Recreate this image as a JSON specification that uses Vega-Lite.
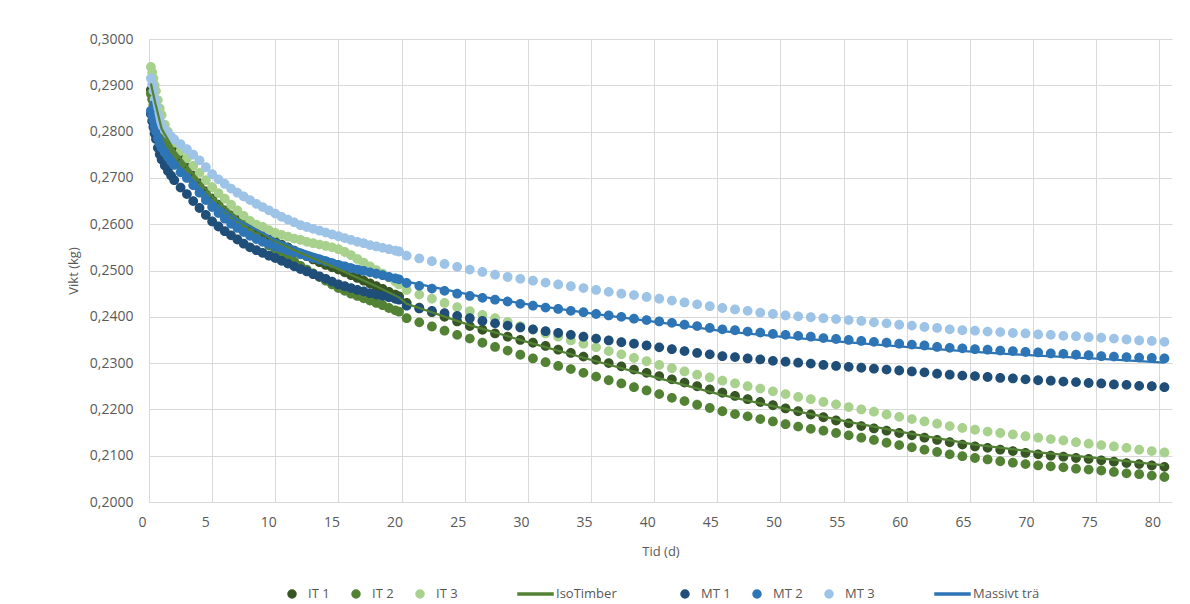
{
  "$schema": "https://vega.github.io/schema/vega-lite/v6.json",
  "width": 1023,
  "height": 463,
  "autosize": "none",
  "padding": {"left": 149, "top": 39, "right": 18, "bottom": 102},
  "background": "white",
  "config": {
    "locale": {"number": {"decimal": ",", "thousands": " ", "grouping": [3], "currency": ["", " kr"]}},
    "view": {"stroke": null},
    "font": "Open Sans",
    "axis": {"labelColor": "#595959", "titleColor": "#595959", "gridColor": "#D9D9D9", "gridWidth": 1, "domain": false, "ticks": false, "tickSize": 0, "labelFont": "Open Sans", "titleFont": "Open Sans", "titleFontWeight": "normal"},
    "legend": {"labelColor": "#595959", "labelFont": "Open Sans", "labelFontSize": 13, "layout": {"anchor": "middle"}}
  },
  "data": {"values": [
    {"s":"IT 1","t":0.15,"v":0.2890},{"s":"IT 1","t":0.25,"v":0.2880},{"s":"IT 1","t":0.35,"v":0.2867},{"s":"IT 1","t":0.45,"v":0.2856},{"s":"IT 1","t":0.55,"v":0.2845},{"s":"IT 1","t":0.7,"v":0.2828},{"s":"IT 1","t":0.85,"v":0.2810},{"s":"IT 1","t":1,"v":0.2796},{"s":"IT 1","t":1.25,"v":0.2783},{"s":"IT 1","t":1.5,"v":0.2772},{"s":"IT 1","t":1.75,"v":0.2764},{"s":"IT 1","t":2,"v":0.2756},{"s":"IT 1","t":2.5,"v":0.2740},{"s":"IT 1","t":3,"v":0.2722},{"s":"IT 1","t":3.5,"v":0.2705},{"s":"IT 1","t":4,"v":0.2688},{"s":"IT 1","t":4.5,"v":0.2671},{"s":"IT 1","t":5,"v":0.2655},{"s":"IT 1","t":5.5,"v":0.2642},{"s":"IT 1","t":6,"v":0.2630},{"s":"IT 1","t":6.5,"v":0.2619},{"s":"IT 1","t":7,"v":0.2609},{"s":"IT 1","t":7.5,"v":0.2600},{"s":"IT 1","t":8,"v":0.2592},{"s":"IT 1","t":8.5,"v":0.2584},{"s":"IT 1","t":9,"v":0.2577},{"s":"IT 1","t":9.5,"v":0.2570},{"s":"IT 1","t":10,"v":0.2563},{"s":"IT 1","t":10.5,"v":0.2556},{"s":"IT 1","t":11,"v":0.2550},{"s":"IT 1","t":11.5,"v":0.2543},{"s":"IT 1","t":12,"v":0.2537},{"s":"IT 1","t":12.5,"v":0.2531},{"s":"IT 1","t":13,"v":0.2524},{"s":"IT 1","t":13.5,"v":0.2518},{"s":"IT 1","t":14,"v":0.2512},{"s":"IT 1","t":14.5,"v":0.2507},{"s":"IT 1","t":15,"v":0.2502},{"s":"IT 1","t":15.5,"v":0.2496},{"s":"IT 1","t":16,"v":0.2490},{"s":"IT 1","t":16.5,"v":0.2484},{"s":"IT 1","t":17,"v":0.2478},{"s":"IT 1","t":17.5,"v":0.2472},{"s":"IT 1","t":18,"v":0.2466},{"s":"IT 1","t":18.5,"v":0.2460},{"s":"IT 1","t":19,"v":0.2454},{"s":"IT 1","t":19.5,"v":0.2448},{"s":"IT 1","t":19.8,"v":0.2444},
    {"s":"IT 1","t":20.4,"v":0.2430},{"s":"IT 1","t":21.4,"v":0.2420},{"s":"IT 1","t":22.4,"v":0.2410},{"s":"IT 1","t":23.4,"v":0.2400},{"s":"IT 1","t":24.4,"v":0.2390},{"s":"IT 1","t":25.4,"v":0.2380},{"s":"IT 1","t":26.4,"v":0.2372},{"s":"IT 1","t":27.4,"v":0.2364},{"s":"IT 1","t":28.4,"v":0.2357},{"s":"IT 1","t":29.4,"v":0.2350},{"s":"IT 1","t":30.4,"v":0.2344},{"s":"IT 1","t":31.4,"v":0.2337},{"s":"IT 1","t":32.4,"v":0.2329},{"s":"IT 1","t":33.4,"v":0.2322},{"s":"IT 1","t":34.4,"v":0.2314},{"s":"IT 1","t":35.4,"v":0.2307},{"s":"IT 1","t":36.4,"v":0.2300},{"s":"IT 1","t":37.4,"v":0.2293},{"s":"IT 1","t":38.4,"v":0.2286},{"s":"IT 1","t":39.4,"v":0.2279},{"s":"IT 1","t":40.4,"v":0.2272},{"s":"IT 1","t":41.4,"v":0.2265},{"s":"IT 1","t":42.4,"v":0.2258},{"s":"IT 1","t":43.4,"v":0.2250},{"s":"IT 1","t":44.4,"v":0.2243},{"s":"IT 1","t":45.4,"v":0.2236},{"s":"IT 1","t":46.4,"v":0.2229},{"s":"IT 1","t":47.4,"v":0.2222},{"s":"IT 1","t":48.4,"v":0.2216},{"s":"IT 1","t":49.4,"v":0.2209},{"s":"IT 1","t":50.4,"v":0.2202},{"s":"IT 1","t":51.4,"v":0.2196},{"s":"IT 1","t":52.4,"v":0.2189},{"s":"IT 1","t":53.4,"v":0.2183},{"s":"IT 1","t":54.4,"v":0.2176},{"s":"IT 1","t":55.4,"v":0.2170},{"s":"IT 1","t":56.4,"v":0.2164},{"s":"IT 1","t":57.4,"v":0.2159},{"s":"IT 1","t":58.4,"v":0.2154},{"s":"IT 1","t":59.4,"v":0.2149},{"s":"IT 1","t":60.4,"v":0.2144},{"s":"IT 1","t":61.4,"v":0.2139},{"s":"IT 1","t":62.4,"v":0.2134},{"s":"IT 1","t":63.4,"v":0.2129},{"s":"IT 1","t":64.4,"v":0.2124},{"s":"IT 1","t":65.4,"v":0.2120},{"s":"IT 1","t":66.4,"v":0.2117},{"s":"IT 1","t":67.4,"v":0.2113},{"s":"IT 1","t":68.4,"v":0.2110},{"s":"IT 1","t":69.4,"v":0.2106},{"s":"IT 1","t":70.4,"v":0.2103},{"s":"IT 1","t":71.4,"v":0.2100},{"s":"IT 1","t":72.4,"v":0.2098},{"s":"IT 1","t":73.4,"v":0.2095},{"s":"IT 1","t":74.4,"v":0.2093},{"s":"IT 1","t":75.4,"v":0.2090},{"s":"IT 1","t":76.4,"v":0.2087},{"s":"IT 1","t":77.4,"v":0.2084},{"s":"IT 1","t":78.4,"v":0.2082},{"s":"IT 1","t":79.4,"v":0.2079},{"s":"IT 1","t":80.4,"v":0.2076},
    {"s":"IT 2","t":0.15,"v":0.2882},{"s":"IT 2","t":0.25,"v":0.2870},{"s":"IT 2","t":0.35,"v":0.2858},{"s":"IT 2","t":0.45,"v":0.2845},{"s":"IT 2","t":0.55,"v":0.2833},{"s":"IT 2","t":0.7,"v":0.2815},{"s":"IT 2","t":0.85,"v":0.2798},{"s":"IT 2","t":1,"v":0.2785},{"s":"IT 2","t":1.25,"v":0.2773},{"s":"IT 2","t":1.5,"v":0.2763},{"s":"IT 2","t":1.75,"v":0.2754},{"s":"IT 2","t":2,"v":0.2745},{"s":"IT 2","t":2.5,"v":0.2728},{"s":"IT 2","t":3,"v":0.2712},{"s":"IT 2","t":3.5,"v":0.2695},{"s":"IT 2","t":4,"v":0.2678},{"s":"IT 2","t":4.5,"v":0.2661},{"s":"IT 2","t":5,"v":0.2645},{"s":"IT 2","t":5.5,"v":0.2633},{"s":"IT 2","t":6,"v":0.2621},{"s":"IT 2","t":6.5,"v":0.2610},{"s":"IT 2","t":7,"v":0.2600},{"s":"IT 2","t":7.5,"v":0.2591},{"s":"IT 2","t":8,"v":0.2581},{"s":"IT 2","t":8.5,"v":0.2572},{"s":"IT 2","t":9,"v":0.2563},{"s":"IT 2","t":9.5,"v":0.2554},{"s":"IT 2","t":10,"v":0.2545},{"s":"IT 2","t":10.5,"v":0.2536},{"s":"IT 2","t":11,"v":0.2527},{"s":"IT 2","t":11.5,"v":0.2519},{"s":"IT 2","t":12,"v":0.2510},{"s":"IT 2","t":12.5,"v":0.2502},{"s":"IT 2","t":13,"v":0.2494},{"s":"IT 2","t":13.5,"v":0.2486},{"s":"IT 2","t":14,"v":0.2478},{"s":"IT 2","t":14.5,"v":0.2470},{"s":"IT 2","t":15,"v":0.2462},{"s":"IT 2","t":15.5,"v":0.2456},{"s":"IT 2","t":16,"v":0.2450},{"s":"IT 2","t":16.5,"v":0.2445},{"s":"IT 2","t":17,"v":0.2440},{"s":"IT 2","t":17.5,"v":0.2435},{"s":"IT 2","t":18,"v":0.2430},{"s":"IT 2","t":18.5,"v":0.2425},{"s":"IT 2","t":19,"v":0.2419},{"s":"IT 2","t":19.5,"v":0.2414},{"s":"IT 2","t":19.8,"v":0.2411},
    {"s":"IT 2","t":20.4,"v":0.2397},{"s":"IT 2","t":21.4,"v":0.2388},{"s":"IT 2","t":22.4,"v":0.2379},{"s":"IT 2","t":23.4,"v":0.2370},{"s":"IT 2","t":24.4,"v":0.2361},{"s":"IT 2","t":25.4,"v":0.2353},{"s":"IT 2","t":26.4,"v":0.2344},{"s":"IT 2","t":27.4,"v":0.2335},{"s":"IT 2","t":28.4,"v":0.2327},{"s":"IT 2","t":29.4,"v":0.2318},{"s":"IT 2","t":30.4,"v":0.2310},{"s":"IT 2","t":31.4,"v":0.2302},{"s":"IT 2","t":32.4,"v":0.2294},{"s":"IT 2","t":33.4,"v":0.2287},{"s":"IT 2","t":34.4,"v":0.2279},{"s":"IT 2","t":35.4,"v":0.2271},{"s":"IT 2","t":36.4,"v":0.2263},{"s":"IT 2","t":37.4,"v":0.2256},{"s":"IT 2","t":38.4,"v":0.2248},{"s":"IT 2","t":39.4,"v":0.2241},{"s":"IT 2","t":40.4,"v":0.2233},{"s":"IT 2","t":41.4,"v":0.2225},{"s":"IT 2","t":42.4,"v":0.2218},{"s":"IT 2","t":43.4,"v":0.2210},{"s":"IT 2","t":44.4,"v":0.2203},{"s":"IT 2","t":45.4,"v":0.2196},{"s":"IT 2","t":46.4,"v":0.2190},{"s":"IT 2","t":47.4,"v":0.2185},{"s":"IT 2","t":48.4,"v":0.2179},{"s":"IT 2","t":49.4,"v":0.2174},{"s":"IT 2","t":50.4,"v":0.2168},{"s":"IT 2","t":51.4,"v":0.2163},{"s":"IT 2","t":52.4,"v":0.2158},{"s":"IT 2","t":53.4,"v":0.2154},{"s":"IT 2","t":54.4,"v":0.2149},{"s":"IT 2","t":55.4,"v":0.2144},{"s":"IT 2","t":56.4,"v":0.2139},{"s":"IT 2","t":57.4,"v":0.2134},{"s":"IT 2","t":58.4,"v":0.2128},{"s":"IT 2","t":59.4,"v":0.2123},{"s":"IT 2","t":60.4,"v":0.2118},{"s":"IT 2","t":61.4,"v":0.2113},{"s":"IT 2","t":62.4,"v":0.2108},{"s":"IT 2","t":63.4,"v":0.2103},{"s":"IT 2","t":64.4,"v":0.2099},{"s":"IT 2","t":65.4,"v":0.2095},{"s":"IT 2","t":66.4,"v":0.2092},{"s":"IT 2","t":67.4,"v":0.2088},{"s":"IT 2","t":68.4,"v":0.2085},{"s":"IT 2","t":69.4,"v":0.2082},{"s":"IT 2","t":70.4,"v":0.2079},{"s":"IT 2","t":71.4,"v":0.2077},{"s":"IT 2","t":72.4,"v":0.2075},{"s":"IT 2","t":73.4,"v":0.2072},{"s":"IT 2","t":74.4,"v":0.2070},{"s":"IT 2","t":75.4,"v":0.2068},{"s":"IT 2","t":76.4,"v":0.2065},{"s":"IT 2","t":77.4,"v":0.2062},{"s":"IT 2","t":78.4,"v":0.2060},{"s":"IT 2","t":79.4,"v":0.2057},{"s":"IT 2","t":80.4,"v":0.2054},
    {"s":"IT 3","t":0.15,"v":0.2940},{"s":"IT 3","t":0.25,"v":0.2928},{"s":"IT 3","t":0.35,"v":0.2915},{"s":"IT 3","t":0.45,"v":0.2900},{"s":"IT 3","t":0.55,"v":0.2888},{"s":"IT 3","t":0.7,"v":0.2868},{"s":"IT 3","t":0.85,"v":0.2850},{"s":"IT 3","t":1,"v":0.2836},{"s":"IT 3","t":1.25,"v":0.2815},{"s":"IT 3","t":1.5,"v":0.2800},{"s":"IT 3","t":1.75,"v":0.2787},{"s":"IT 3","t":2,"v":0.2776},{"s":"IT 3","t":2.5,"v":0.2758},{"s":"IT 3","t":3,"v":0.2742},{"s":"IT 3","t":3.5,"v":0.2726},{"s":"IT 3","t":4,"v":0.2711},{"s":"IT 3","t":4.5,"v":0.2695},{"s":"IT 3","t":5,"v":0.2680},{"s":"IT 3","t":5.5,"v":0.2667},{"s":"IT 3","t":6,"v":0.2655},{"s":"IT 3","t":6.5,"v":0.2642},{"s":"IT 3","t":7,"v":0.2630},{"s":"IT 3","t":7.5,"v":0.2618},{"s":"IT 3","t":8,"v":0.2607},{"s":"IT 3","t":8.5,"v":0.2599},{"s":"IT 3","t":9,"v":0.2594},{"s":"IT 3","t":9.5,"v":0.2587},{"s":"IT 3","t":10,"v":0.2581},{"s":"IT 3","t":10.5,"v":0.2577},{"s":"IT 3","t":11,"v":0.2573},{"s":"IT 3","t":11.5,"v":0.2569},{"s":"IT 3","t":12,"v":0.2566},{"s":"IT 3","t":12.5,"v":0.2562},{"s":"IT 3","t":13,"v":0.2559},{"s":"IT 3","t":13.5,"v":0.2556},{"s":"IT 3","t":14,"v":0.2553},{"s":"IT 3","t":14.5,"v":0.2550},{"s":"IT 3","t":15,"v":0.2546},{"s":"IT 3","t":15.5,"v":0.2540},{"s":"IT 3","t":16,"v":0.2533},{"s":"IT 3","t":16.5,"v":0.2525},{"s":"IT 3","t":17,"v":0.2517},{"s":"IT 3","t":17.5,"v":0.2509},{"s":"IT 3","t":18,"v":0.2501},{"s":"IT 3","t":18.5,"v":0.2493},{"s":"IT 3","t":19,"v":0.2485},{"s":"IT 3","t":19.5,"v":0.2476},{"s":"IT 3","t":19.8,"v":0.2470},
    {"s":"IT 3","t":20.4,"v":0.2458},{"s":"IT 3","t":21.4,"v":0.2448},{"s":"IT 3","t":22.4,"v":0.2439},{"s":"IT 3","t":23.4,"v":0.2430},{"s":"IT 3","t":24.4,"v":0.2421},{"s":"IT 3","t":25.4,"v":0.2412},{"s":"IT 3","t":26.4,"v":0.2404},{"s":"IT 3","t":27.4,"v":0.2397},{"s":"IT 3","t":28.4,"v":0.2389},{"s":"IT 3","t":29.4,"v":0.2380},{"s":"IT 3","t":30.4,"v":0.2372},{"s":"IT 3","t":31.4,"v":0.2364},{"s":"IT 3","t":32.4,"v":0.2357},{"s":"IT 3","t":33.4,"v":0.2349},{"s":"IT 3","t":34.4,"v":0.2342},{"s":"IT 3","t":35.4,"v":0.2334},{"s":"IT 3","t":36.4,"v":0.2326},{"s":"IT 3","t":37.4,"v":0.2319},{"s":"IT 3","t":38.4,"v":0.2311},{"s":"IT 3","t":39.4,"v":0.2304},{"s":"IT 3","t":40.4,"v":0.2296},{"s":"IT 3","t":41.4,"v":0.2289},{"s":"IT 3","t":42.4,"v":0.2282},{"s":"IT 3","t":43.4,"v":0.2275},{"s":"IT 3","t":44.4,"v":0.2269},{"s":"IT 3","t":45.4,"v":0.2262},{"s":"IT 3","t":46.4,"v":0.2256},{"s":"IT 3","t":47.4,"v":0.2250},{"s":"IT 3","t":48.4,"v":0.2245},{"s":"IT 3","t":49.4,"v":0.2239},{"s":"IT 3","t":50.4,"v":0.2233},{"s":"IT 3","t":51.4,"v":0.2227},{"s":"IT 3","t":52.4,"v":0.2222},{"s":"IT 3","t":53.4,"v":0.2216},{"s":"IT 3","t":54.4,"v":0.2211},{"s":"IT 3","t":55.4,"v":0.2205},{"s":"IT 3","t":56.4,"v":0.2200},{"s":"IT 3","t":57.4,"v":0.2195},{"s":"IT 3","t":58.4,"v":0.2189},{"s":"IT 3","t":59.4,"v":0.2184},{"s":"IT 3","t":60.4,"v":0.2179},{"s":"IT 3","t":61.4,"v":0.2174},{"s":"IT 3","t":62.4,"v":0.2169},{"s":"IT 3","t":63.4,"v":0.2164},{"s":"IT 3","t":64.4,"v":0.2160},{"s":"IT 3","t":65.4,"v":0.2156},{"s":"IT 3","t":66.4,"v":0.2152},{"s":"IT 3","t":67.4,"v":0.2149},{"s":"IT 3","t":68.4,"v":0.2146},{"s":"IT 3","t":69.4,"v":0.2142},{"s":"IT 3","t":70.4,"v":0.2139},{"s":"IT 3","t":71.4,"v":0.2136},{"s":"IT 3","t":72.4,"v":0.2133},{"s":"IT 3","t":73.4,"v":0.2129},{"s":"IT 3","t":74.4,"v":0.2126},{"s":"IT 3","t":75.4,"v":0.2123},{"s":"IT 3","t":76.4,"v":0.2120},{"s":"IT 3","t":77.4,"v":0.2117},{"s":"IT 3","t":78.4,"v":0.2113},{"s":"IT 3","t":79.4,"v":0.2110},{"s":"IT 3","t":80.4,"v":0.2107},
    {"s":"MT 1","t":0.15,"v":0.2838},{"s":"MT 1","t":0.25,"v":0.2823},{"s":"MT 1","t":0.35,"v":0.2810},{"s":"MT 1","t":0.45,"v":0.2796},{"s":"MT 1","t":0.55,"v":0.2784},{"s":"MT 1","t":0.7,"v":0.2765},{"s":"MT 1","t":0.85,"v":0.2751},{"s":"MT 1","t":1,"v":0.2740},{"s":"MT 1","t":1.25,"v":0.2727},{"s":"MT 1","t":1.5,"v":0.2715},{"s":"MT 1","t":1.75,"v":0.2705},{"s":"MT 1","t":2,"v":0.2695},{"s":"MT 1","t":2.5,"v":0.2679},{"s":"MT 1","t":3,"v":0.2665},{"s":"MT 1","t":3.5,"v":0.2650},{"s":"MT 1","t":4,"v":0.2635},{"s":"MT 1","t":4.5,"v":0.2620},{"s":"MT 1","t":5,"v":0.2606},{"s":"MT 1","t":5.5,"v":0.2595},{"s":"MT 1","t":6,"v":0.2585},{"s":"MT 1","t":6.5,"v":0.2576},{"s":"MT 1","t":7,"v":0.2567},{"s":"MT 1","t":7.5,"v":0.2558},{"s":"MT 1","t":8,"v":0.2550},{"s":"MT 1","t":8.5,"v":0.2544},{"s":"MT 1","t":9,"v":0.2538},{"s":"MT 1","t":9.5,"v":0.2532},{"s":"MT 1","t":10,"v":0.2527},{"s":"MT 1","t":10.5,"v":0.2521},{"s":"MT 1","t":11,"v":0.2515},{"s":"MT 1","t":11.5,"v":0.2509},{"s":"MT 1","t":12,"v":0.2503},{"s":"MT 1","t":12.5,"v":0.2498},{"s":"MT 1","t":13,"v":0.2492},{"s":"MT 1","t":13.5,"v":0.2487},{"s":"MT 1","t":14,"v":0.2482},{"s":"MT 1","t":14.5,"v":0.2476},{"s":"MT 1","t":15,"v":0.2470},{"s":"MT 1","t":15.5,"v":0.2466},{"s":"MT 1","t":16,"v":0.2462},{"s":"MT 1","t":16.5,"v":0.2458},{"s":"MT 1","t":17,"v":0.2455},{"s":"MT 1","t":17.5,"v":0.2451},{"s":"MT 1","t":18,"v":0.2448},{"s":"MT 1","t":18.5,"v":0.2445},{"s":"MT 1","t":19,"v":0.2442},{"s":"MT 1","t":19.5,"v":0.2439},{"s":"MT 1","t":19.8,"v":0.2437},
    {"s":"MT 1","t":20.4,"v":0.2424},{"s":"MT 1","t":21.4,"v":0.2418},{"s":"MT 1","t":22.4,"v":0.2413},{"s":"MT 1","t":23.4,"v":0.2408},{"s":"MT 1","t":24.4,"v":0.2402},{"s":"MT 1","t":25.4,"v":0.2397},{"s":"MT 1","t":26.4,"v":0.2391},{"s":"MT 1","t":27.4,"v":0.2386},{"s":"MT 1","t":28.4,"v":0.2381},{"s":"MT 1","t":29.4,"v":0.2377},{"s":"MT 1","t":30.4,"v":0.2373},{"s":"MT 1","t":31.4,"v":0.2369},{"s":"MT 1","t":32.4,"v":0.2365},{"s":"MT 1","t":33.4,"v":0.2361},{"s":"MT 1","t":34.4,"v":0.2357},{"s":"MT 1","t":35.4,"v":0.2353},{"s":"MT 1","t":36.4,"v":0.2349},{"s":"MT 1","t":37.4,"v":0.2345},{"s":"MT 1","t":38.4,"v":0.2342},{"s":"MT 1","t":39.4,"v":0.2338},{"s":"MT 1","t":40.4,"v":0.2334},{"s":"MT 1","t":41.4,"v":0.2330},{"s":"MT 1","t":42.4,"v":0.2326},{"s":"MT 1","t":43.4,"v":0.2322},{"s":"MT 1","t":44.4,"v":0.2319},{"s":"MT 1","t":45.4,"v":0.2315},{"s":"MT 1","t":46.4,"v":0.2313},{"s":"MT 1","t":47.4,"v":0.2310},{"s":"MT 1","t":48.4,"v":0.2308},{"s":"MT 1","t":49.4,"v":0.2305},{"s":"MT 1","t":50.4,"v":0.2303},{"s":"MT 1","t":51.4,"v":0.2301},{"s":"MT 1","t":52.4,"v":0.2299},{"s":"MT 1","t":53.4,"v":0.2296},{"s":"MT 1","t":54.4,"v":0.2294},{"s":"MT 1","t":55.4,"v":0.2292},{"s":"MT 1","t":56.4,"v":0.2290},{"s":"MT 1","t":57.4,"v":0.2288},{"s":"MT 1","t":58.4,"v":0.2286},{"s":"MT 1","t":59.4,"v":0.2284},{"s":"MT 1","t":60.4,"v":0.2282},{"s":"MT 1","t":61.4,"v":0.2280},{"s":"MT 1","t":62.4,"v":0.2277},{"s":"MT 1","t":63.4,"v":0.2275},{"s":"MT 1","t":64.4,"v":0.2273},{"s":"MT 1","t":65.4,"v":0.2272},{"s":"MT 1","t":66.4,"v":0.2270},{"s":"MT 1","t":67.4,"v":0.2268},{"s":"MT 1","t":68.4,"v":0.2267},{"s":"MT 1","t":69.4,"v":0.2265},{"s":"MT 1","t":70.4,"v":0.2263},{"s":"MT 1","t":71.4,"v":0.2262},{"s":"MT 1","t":72.4,"v":0.2260},{"s":"MT 1","t":73.4,"v":0.2259},{"s":"MT 1","t":74.4,"v":0.2257},{"s":"MT 1","t":75.4,"v":0.2256},{"s":"MT 1","t":76.4,"v":0.2254},{"s":"MT 1","t":77.4,"v":0.2253},{"s":"MT 1","t":78.4,"v":0.2251},{"s":"MT 1","t":79.4,"v":0.2250},{"s":"MT 1","t":80.4,"v":0.2248},
    {"s":"MT 2","t":0.15,"v":0.2845},{"s":"MT 2","t":0.25,"v":0.2835},{"s":"MT 2","t":0.35,"v":0.2825},{"s":"MT 2","t":0.45,"v":0.2811},{"s":"MT 2","t":0.55,"v":0.2800},{"s":"MT 2","t":0.7,"v":0.2785},{"s":"MT 2","t":0.85,"v":0.2774},{"s":"MT 2","t":1,"v":0.2765},{"s":"MT 2","t":1.25,"v":0.2755},{"s":"MT 2","t":1.5,"v":0.2745},{"s":"MT 2","t":1.75,"v":0.2736},{"s":"MT 2","t":2,"v":0.2728},{"s":"MT 2","t":2.5,"v":0.2712},{"s":"MT 2","t":3,"v":0.2700},{"s":"MT 2","t":3.5,"v":0.2684},{"s":"MT 2","t":4,"v":0.2668},{"s":"MT 2","t":4.5,"v":0.2652},{"s":"MT 2","t":5,"v":0.2637},{"s":"MT 2","t":5.5,"v":0.2624},{"s":"MT 2","t":6,"v":0.2612},{"s":"MT 2","t":6.5,"v":0.2601},{"s":"MT 2","t":7,"v":0.2592},{"s":"MT 2","t":7.5,"v":0.2583},{"s":"MT 2","t":8,"v":0.2575},{"s":"MT 2","t":8.5,"v":0.2568},{"s":"MT 2","t":9,"v":0.2562},{"s":"MT 2","t":9.5,"v":0.2557},{"s":"MT 2","t":10,"v":0.2552},{"s":"MT 2","t":10.5,"v":0.2548},{"s":"MT 2","t":11,"v":0.2543},{"s":"MT 2","t":11.5,"v":0.2539},{"s":"MT 2","t":12,"v":0.2535},{"s":"MT 2","t":12.5,"v":0.2531},{"s":"MT 2","t":13,"v":0.2527},{"s":"MT 2","t":13.5,"v":0.2524},{"s":"MT 2","t":14,"v":0.2520},{"s":"MT 2","t":14.5,"v":0.2516},{"s":"MT 2","t":15,"v":0.2512},{"s":"MT 2","t":15.5,"v":0.2509},{"s":"MT 2","t":16,"v":0.2505},{"s":"MT 2","t":16.5,"v":0.2502},{"s":"MT 2","t":17,"v":0.2499},{"s":"MT 2","t":17.5,"v":0.2496},{"s":"MT 2","t":18,"v":0.2493},{"s":"MT 2","t":18.5,"v":0.2490},{"s":"MT 2","t":19,"v":0.2486},{"s":"MT 2","t":19.5,"v":0.2483},{"s":"MT 2","t":19.8,"v":0.2481},
    {"s":"MT 2","t":20.4,"v":0.2473},{"s":"MT 2","t":21.4,"v":0.2467},{"s":"MT 2","t":22.4,"v":0.2461},{"s":"MT 2","t":23.4,"v":0.2456},{"s":"MT 2","t":24.4,"v":0.2450},{"s":"MT 2","t":25.4,"v":0.2445},{"s":"MT 2","t":26.4,"v":0.2441},{"s":"MT 2","t":27.4,"v":0.2437},{"s":"MT 2","t":28.4,"v":0.2433},{"s":"MT 2","t":29.4,"v":0.2428},{"s":"MT 2","t":30.4,"v":0.2424},{"s":"MT 2","t":31.4,"v":0.2420},{"s":"MT 2","t":32.4,"v":0.2417},{"s":"MT 2","t":33.4,"v":0.2413},{"s":"MT 2","t":34.4,"v":0.2410},{"s":"MT 2","t":35.4,"v":0.2406},{"s":"MT 2","t":36.4,"v":0.2403},{"s":"MT 2","t":37.4,"v":0.2400},{"s":"MT 2","t":38.4,"v":0.2396},{"s":"MT 2","t":39.4,"v":0.2393},{"s":"MT 2","t":40.4,"v":0.2390},{"s":"MT 2","t":41.4,"v":0.2387},{"s":"MT 2","t":42.4,"v":0.2383},{"s":"MT 2","t":43.4,"v":0.2380},{"s":"MT 2","t":44.4,"v":0.2376},{"s":"MT 2","t":45.4,"v":0.2373},{"s":"MT 2","t":46.4,"v":0.2371},{"s":"MT 2","t":47.4,"v":0.2368},{"s":"MT 2","t":48.4,"v":0.2366},{"s":"MT 2","t":49.4,"v":0.2363},{"s":"MT 2","t":50.4,"v":0.2361},{"s":"MT 2","t":51.4,"v":0.2359},{"s":"MT 2","t":52.4,"v":0.2357},{"s":"MT 2","t":53.4,"v":0.2354},{"s":"MT 2","t":54.4,"v":0.2352},{"s":"MT 2","t":55.4,"v":0.2350},{"s":"MT 2","t":56.4,"v":0.2348},{"s":"MT 2","t":57.4,"v":0.2346},{"s":"MT 2","t":58.4,"v":0.2344},{"s":"MT 2","t":59.4,"v":0.2342},{"s":"MT 2","t":60.4,"v":0.2340},{"s":"MT 2","t":61.4,"v":0.2338},{"s":"MT 2","t":62.4,"v":0.2335},{"s":"MT 2","t":63.4,"v":0.2333},{"s":"MT 2","t":64.4,"v":0.2332},{"s":"MT 2","t":65.4,"v":0.2330},{"s":"MT 2","t":66.4,"v":0.2329},{"s":"MT 2","t":67.4,"v":0.2327},{"s":"MT 2","t":68.4,"v":0.2326},{"s":"MT 2","t":69.4,"v":0.2324},{"s":"MT 2","t":70.4,"v":0.2323},{"s":"MT 2","t":71.4,"v":0.2321},{"s":"MT 2","t":72.4,"v":0.2320},{"s":"MT 2","t":73.4,"v":0.2318},{"s":"MT 2","t":74.4,"v":0.2317},{"s":"MT 2","t":75.4,"v":0.2315},{"s":"MT 2","t":76.4,"v":0.2314},{"s":"MT 2","t":77.4,"v":0.2313},{"s":"MT 2","t":78.4,"v":0.2312},{"s":"MT 2","t":79.4,"v":0.2311},{"s":"MT 2","t":80.4,"v":0.2310},
    {"s":"MT 3","t":0.15,"v":0.2915},{"s":"MT 3","t":0.25,"v":0.2902},{"s":"MT 3","t":0.35,"v":0.2888},{"s":"MT 3","t":0.45,"v":0.2870},{"s":"MT 3","t":0.55,"v":0.2855},{"s":"MT 3","t":0.7,"v":0.2836},{"s":"MT 3","t":0.85,"v":0.2822},{"s":"MT 3","t":1,"v":0.2813},{"s":"MT 3","t":1.25,"v":0.2803},{"s":"MT 3","t":1.5,"v":0.2795},{"s":"MT 3","t":1.75,"v":0.2789},{"s":"MT 3","t":2,"v":0.2783},{"s":"MT 3","t":2.5,"v":0.2773},{"s":"MT 3","t":3,"v":0.2762},{"s":"MT 3","t":3.5,"v":0.2750},{"s":"MT 3","t":4,"v":0.2738},{"s":"MT 3","t":4.5,"v":0.2723},{"s":"MT 3","t":5,"v":0.2708},{"s":"MT 3","t":5.5,"v":0.2697},{"s":"MT 3","t":6,"v":0.2687},{"s":"MT 3","t":6.5,"v":0.2677},{"s":"MT 3","t":7,"v":0.2668},{"s":"MT 3","t":7.5,"v":0.2660},{"s":"MT 3","t":8,"v":0.2652},{"s":"MT 3","t":8.5,"v":0.2644},{"s":"MT 3","t":9,"v":0.2637},{"s":"MT 3","t":9.5,"v":0.2630},{"s":"MT 3","t":10,"v":0.2623},{"s":"MT 3","t":10.5,"v":0.2616},{"s":"MT 3","t":11,"v":0.2610},{"s":"MT 3","t":11.5,"v":0.2604},{"s":"MT 3","t":12,"v":0.2598},{"s":"MT 3","t":12.5,"v":0.2594},{"s":"MT 3","t":13,"v":0.2590},{"s":"MT 3","t":13.5,"v":0.2586},{"s":"MT 3","t":14,"v":0.2582},{"s":"MT 3","t":14.5,"v":0.2578},{"s":"MT 3","t":15,"v":0.2574},{"s":"MT 3","t":15.5,"v":0.2570},{"s":"MT 3","t":16,"v":0.2566},{"s":"MT 3","t":16.5,"v":0.2562},{"s":"MT 3","t":17,"v":0.2559},{"s":"MT 3","t":17.5,"v":0.2555},{"s":"MT 3","t":18,"v":0.2552},{"s":"MT 3","t":18.5,"v":0.2549},{"s":"MT 3","t":19,"v":0.2546},{"s":"MT 3","t":19.5,"v":0.2543},{"s":"MT 3","t":19.8,"v":0.2541},
    {"s":"MT 3","t":20.4,"v":0.2532},{"s":"MT 3","t":21.4,"v":0.2526},{"s":"MT 3","t":22.4,"v":0.2520},{"s":"MT 3","t":23.4,"v":0.2514},{"s":"MT 3","t":24.4,"v":0.2508},{"s":"MT 3","t":25.4,"v":0.2502},{"s":"MT 3","t":26.4,"v":0.2497},{"s":"MT 3","t":27.4,"v":0.2491},{"s":"MT 3","t":28.4,"v":0.2486},{"s":"MT 3","t":29.4,"v":0.2482},{"s":"MT 3","t":30.4,"v":0.2478},{"s":"MT 3","t":31.4,"v":0.2474},{"s":"MT 3","t":32.4,"v":0.2470},{"s":"MT 3","t":33.4,"v":0.2466},{"s":"MT 3","t":34.4,"v":0.2462},{"s":"MT 3","t":35.4,"v":0.2458},{"s":"MT 3","t":36.4,"v":0.2454},{"s":"MT 3","t":37.4,"v":0.2450},{"s":"MT 3","t":38.4,"v":0.2447},{"s":"MT 3","t":39.4,"v":0.2443},{"s":"MT 3","t":40.4,"v":0.2439},{"s":"MT 3","t":41.4,"v":0.2435},{"s":"MT 3","t":42.4,"v":0.2431},{"s":"MT 3","t":43.4,"v":0.2427},{"s":"MT 3","t":44.4,"v":0.2423},{"s":"MT 3","t":45.4,"v":0.2419},{"s":"MT 3","t":46.4,"v":0.2416},{"s":"MT 3","t":47.4,"v":0.2413},{"s":"MT 3","t":48.4,"v":0.2409},{"s":"MT 3","t":49.4,"v":0.2406},{"s":"MT 3","t":50.4,"v":0.2403},{"s":"MT 3","t":51.4,"v":0.2401},{"s":"MT 3","t":52.4,"v":0.2399},{"s":"MT 3","t":53.4,"v":0.2397},{"s":"MT 3","t":54.4,"v":0.2395},{"s":"MT 3","t":55.4,"v":0.2393},{"s":"MT 3","t":56.4,"v":0.2391},{"s":"MT 3","t":57.4,"v":0.2388},{"s":"MT 3","t":58.4,"v":0.2386},{"s":"MT 3","t":59.4,"v":0.2383},{"s":"MT 3","t":60.4,"v":0.2381},{"s":"MT 3","t":61.4,"v":0.2378},{"s":"MT 3","t":62.4,"v":0.2376},{"s":"MT 3","t":63.4,"v":0.2373},{"s":"MT 3","t":64.4,"v":0.2371},{"s":"MT 3","t":65.4,"v":0.2370},{"s":"MT 3","t":66.4,"v":0.2368},{"s":"MT 3","t":67.4,"v":0.2367},{"s":"MT 3","t":68.4,"v":0.2365},{"s":"MT 3","t":69.4,"v":0.2364},{"s":"MT 3","t":70.4,"v":0.2362},{"s":"MT 3","t":71.4,"v":0.2361},{"s":"MT 3","t":72.4,"v":0.2359},{"s":"MT 3","t":73.4,"v":0.2358},{"s":"MT 3","t":74.4,"v":0.2356},{"s":"MT 3","t":75.4,"v":0.2355},{"s":"MT 3","t":76.4,"v":0.2353},{"s":"MT 3","t":77.4,"v":0.2351},{"s":"MT 3","t":78.4,"v":0.2349},{"s":"MT 3","t":79.4,"v":0.2348},{"s":"MT 3","t":80.4,"v":0.2346},
    {"s":"IsoTimber","t":0.15,"v":0.2904},{"s":"IsoTimber","t":0.5,"v":0.2861},{"s":"IsoTimber","t":1,"v":0.2806},{"s":"IsoTimber","t":2,"v":0.2759},{"s":"IsoTimber","t":3,"v":0.2725},{"s":"IsoTimber","t":5,"v":0.2660},{"s":"IsoTimber","t":7,"v":0.2613},{"s":"IsoTimber","t":10,"v":0.2563},{"s":"IsoTimber","t":12,"v":0.2538},{"s":"IsoTimber","t":15,"v":0.2503},{"s":"IsoTimber","t":18,"v":0.2466},{"s":"IsoTimber","t":19.8,"v":0.2442},{"s":"IsoTimber","t":20.4,"v":0.2428},{"s":"IsoTimber","t":25.4,"v":0.2382},{"s":"IsoTimber","t":30.4,"v":0.2342},{"s":"IsoTimber","t":35.4,"v":0.2304},{"s":"IsoTimber","t":40.4,"v":0.2267},{"s":"IsoTimber","t":45.4,"v":0.2231},{"s":"IsoTimber","t":50.4,"v":0.2201},{"s":"IsoTimber","t":55.4,"v":0.2173},{"s":"IsoTimber","t":60.4,"v":0.2147},{"s":"IsoTimber","t":65.4,"v":0.2124},{"s":"IsoTimber","t":70.4,"v":0.2107},{"s":"IsoTimber","t":75.4,"v":0.2094},{"s":"IsoTimber","t":80.4,"v":0.2079},
    {"s":"Massivt trä","t":0.15,"v":0.2866},{"s":"Massivt trä","t":0.5,"v":0.2819},{"s":"Massivt trä","t":1,"v":0.2773},{"s":"Massivt trä","t":2,"v":0.2735},{"s":"Massivt trä","t":3,"v":0.2709},{"s":"Massivt trä","t":5,"v":0.2650},{"s":"Massivt trä","t":7,"v":0.2609},{"s":"Massivt trä","t":10,"v":0.2567},{"s":"Massivt trä","t":12,"v":0.2545},{"s":"Massivt trä","t":15,"v":0.2519},{"s":"Massivt trä","t":18,"v":0.2498},{"s":"Massivt trä","t":19.8,"v":0.2486},{"s":"Massivt trä","t":20.4,"v":0.2476},{"s":"Massivt trä","t":25.4,"v":0.2448},{"s":"Massivt trä","t":30.4,"v":0.2425},{"s":"Massivt trä","t":35.4,"v":0.2406},{"s":"Massivt trä","t":40.4,"v":0.2388},{"s":"Massivt trä","t":45.4,"v":0.2369},{"s":"Massivt trä","t":50.4,"v":0.2356},{"s":"Massivt trä","t":55.4,"v":0.2345},{"s":"Massivt trä","t":60.4,"v":0.2334},{"s":"Massivt trä","t":65.4,"v":0.2324},{"s":"Massivt trä","t":70.4,"v":0.2316},{"s":"Massivt trä","t":75.4,"v":0.2309},{"s":"Massivt trä","t":80.4,"v":0.2301}
  ]},
  "encoding": {
    "x": {"field": "t", "type": "quantitative", "title": "Tid (d)",
      "scale": {"domain": [0, 81], "nice": false, "zero": false},
      "axis": {"values": [0,5,10,15,20,25,30,35,40,45,50,55,60,65,70,75,80], "labelFontSize": 14, "labelPadding": 13, "labelFlush": false, "labelOffset": -7, "titleFontSize": 13, "titlePadding": 16, "grid": true}},
    "y": {"field": "v", "type": "quantitative", "title": "Vikt (kg)",
      "scale": {"domain": [0.2, 0.3], "nice": false, "zero": false},
      "axis": {"values": [0.2,0.21,0.22,0.23,0.24,0.25,0.26,0.27,0.28,0.29,0.3], "format": ".4f", "labelFontSize": 14, "labelPadding": 16, "titleFontSize": 13, "titlePadding": 9, "grid": true}},
    "color": {"field": "s", "type": "nominal", "title": null,
      "scale": {"domain": ["IT 1","IT 2","IT 3","_a","IsoTimber","_b","MT 1","MT 2","MT 3","_c","Massivt trä"],
                "range": ["#375623","#548235","#A9D18E","rgba(0,0,0,0)","#548235","rgba(0,0,0,0)","#1F4E79","#2E75B6","#9DC3E6","rgba(0,0,0,0)","#2E75B6"]},
      "legend": {"orient": "bottom", "direction": "horizontal", "offset": 25, "symbolSize": 400, "labelOffset": 5, "columnPadding": 15, "symbolOpacity": 1,
        "labelExpr": "indexof(datum.label, '_') == 0 ? '' : datum.label"}
    }
  },
  "layer": [
    {
      "transform": [{"filter": "datum.s != 'IsoTimber' && datum.s != 'Massivt trä'"}],
      "mark": {"type": "point", "filled": true, "opacity": 1, "size": 600, "strokeWidth": 0},
      "encoding": {
        "shape": {"field": "s", "type": "nominal", "title": null,
          "scale": {"domain": ["IT 1","IT 2","IT 3","_a","IsoTimber","_b","MT 1","MT 2","MT 3","_c","Massivt trä"],
                    "range": ["M0.4,0A0.4,0.4 0 1,1 -0.4,0A0.4,0.4 0 1,1 0.4,0Z","M0.4,0A0.4,0.4 0 1,1 -0.4,0A0.4,0.4 0 1,1 0.4,0Z","M0.4,0A0.4,0.4 0 1,1 -0.4,0A0.4,0.4 0 1,1 0.4,0Z","M0.4,0A0.4,0.4 0 1,1 -0.4,0A0.4,0.4 0 1,1 0.4,0Z","M-2.2,-0.11H1.3V0.11H-2.2Z","M0.4,0A0.4,0.4 0 1,1 -0.4,0A0.4,0.4 0 1,1 0.4,0Z","M0.4,0A0.4,0.4 0 1,1 -0.4,0A0.4,0.4 0 1,1 0.4,0Z","M0.4,0A0.4,0.4 0 1,1 -0.4,0A0.4,0.4 0 1,1 0.4,0Z","M0.4,0A0.4,0.4 0 1,1 -0.4,0A0.4,0.4 0 1,1 0.4,0Z","M0.4,0A0.4,0.4 0 1,1 -0.4,0A0.4,0.4 0 1,1 0.4,0Z","M-2.2,-0.11H1.3V0.11H-2.2Z"]}}
      }
    },
    {
      "transform": [{"filter": "datum.s == 'IsoTimber' || datum.s == 'Massivt trä'"}],
      "mark": {"type": "line", "strokeWidth": 2.25},
      "encoding": {"detail": {"field": "s"}}
    }
  ]
}
